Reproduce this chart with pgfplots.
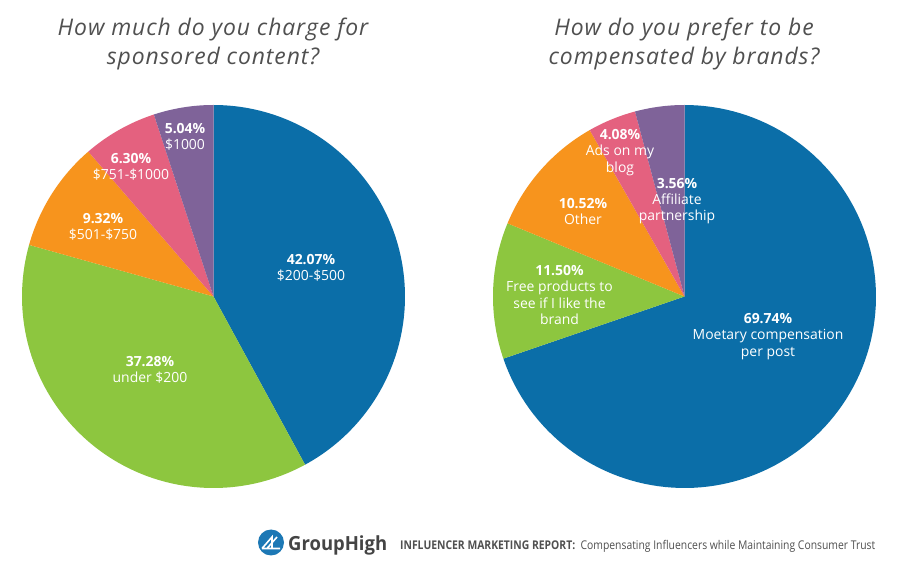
\documentclass[border=0pt]{standalone}
\usepackage{pgfplots}
\pgfplotsset{compat=1.18}
\usepackage{graphicx}
\usepackage{fontspec}
\setmainfont{Open Sans}
\definecolor{cblue}{HTML}{0B6EA8}
\definecolor{cgreen}{HTML}{8DC63F}
\definecolor{corange}{HTML}{F7941D}
\definecolor{cpink}{HTML}{E4617F}
\definecolor{cpurple}{HTML}{7F6399}
\definecolor{tgray}{HTML}{505050}
\definecolor{logoblue}{HTML}{1C78B5}
% #1 colour, #2 cumulative start (%), #3 cumulative end (%), #4 total (%)
\newcommand{\pieslice}[4]{%
  \addplot[draw=none, fill=#1, domain=90-360*(#3)/(#4):90-360*(#2)/(#4), samples=120]
    ({cos(x)},{sin(x)}) -- (axis cs:0,0) -- cycle;}
\pgfplotsset{pie/.style={hide axis, scale only axis, width=383bp, height=383bp,
  xmin=-1, xmax=1, ymin=-1, ymax=1, anchor=center, clip=false}}
\begin{document}
\begin{tikzpicture}
\fill[white] (0,0) rectangle (900bp,580bp);
\path[use as bounding box] (0,0) rectangle (900bp,580bp);
% Left pie: 42.07, 37.28, 9.32, 6.30, 5.04
\begin{axis}[pie, at={(213.5bp,283.5bp)}]
\pieslice{cblue}{0}{42.07}{100.01}
\pieslice{cgreen}{42.07}{79.35}{100.01}
\pieslice{corange}{79.35}{88.67}{100.01}
\pieslice{cpink}{88.67}{94.97}{100.01}
\pieslice{cpurple}{94.97}{100.01}{100.01}
\end{axis}
% Right pie: 69.74, 11.50, 10.52, 4.08, 3.56 (last slice fills the remainder, as drawn)
\begin{axis}[pie, at={(684.5bp,283.5bp)}]
\pieslice{cblue}{0}{69.74}{100}
\pieslice{cgreen}{69.74}{81.24}{100}
\pieslice{corange}{81.24}{91.76}{100}
\pieslice{cpink}{91.76}{95.84}{100}
\pieslice{cpurple}{95.84}{100}{100}
\end{axis}
\begin{scope}[x=1bp, y=1bp,
  lbl/.style={text=white, align=center, inner sep=0pt, font=\fontsize{14}{16.3}\selectfont},
  ttl/.style={text=tgray, align=center, inner sep=0pt, font=\fontsize{23}{30}\selectfont\itshape\addfontfeatures{LetterSpace=4}}]
% titles
\node[ttl] at (213,536) {How much do you charge for\\sponsored content?};
\node[ttl] at (684,536) {How do you prefer to be\\compensated by brands?};
% left labels
\node[lbl] at (311,312) {\textbf{42.07\%}\\\$200-\$500};
\node[lbl] at (150,210) {\textbf{37.28\%}\\under \$200};
\node[lbl] at (103,353.5) {\textbf{9.32\%}\\\$501-\$750};
\node[lbl] at (131,413) {\textbf{6.30\%}\\\$751-\$1000};
\node[lbl] at (185,443.5) {\textbf{5.04\%}\\\$1000};
% right labels
\node[lbl] at (620,427.5) {\textbf{4.08\%}\\Ads on my\\blog};
\node[lbl] at (677,379) {\textbf{3.56\%}\\Affiliate\\partnership};
\node[lbl] at (583,368.5) {\textbf{10.52\%}\\Other};
\node[lbl] at (559.5,285) {\textbf{11.50\%}\\Free products to\\see if I like the\\brand};
\node[lbl] at (768,243.5) {\textbf{69.74\%}\\Moetary compensation\\per post};
% footer
\fill[logoblue] (271,37.5) circle (13);
\draw[white, line width=1.6, line join=miter] (262,31.5) -- (280,31.5) (262,31.5) -- (272,43) -- (272,31.5) (267,31.5) -- (277,43);
\node[anchor=base west, inner sep=0pt, text=tgray!85!black] at (288,29.5)
  {\resizebox{99bp}{14.8bp}{\bfseries GroupHigh}};
\node[anchor=base west, inner sep=0pt, text=tgray] at (400,30.7)
  {\resizebox{475bp}{9.2bp}{\textbf{INFLUENCER MARKETING REPORT:}\ \ Compensating Influencers while Maintaining Consumer Trust}};
\end{scope}
\end{tikzpicture}
\end{document}
